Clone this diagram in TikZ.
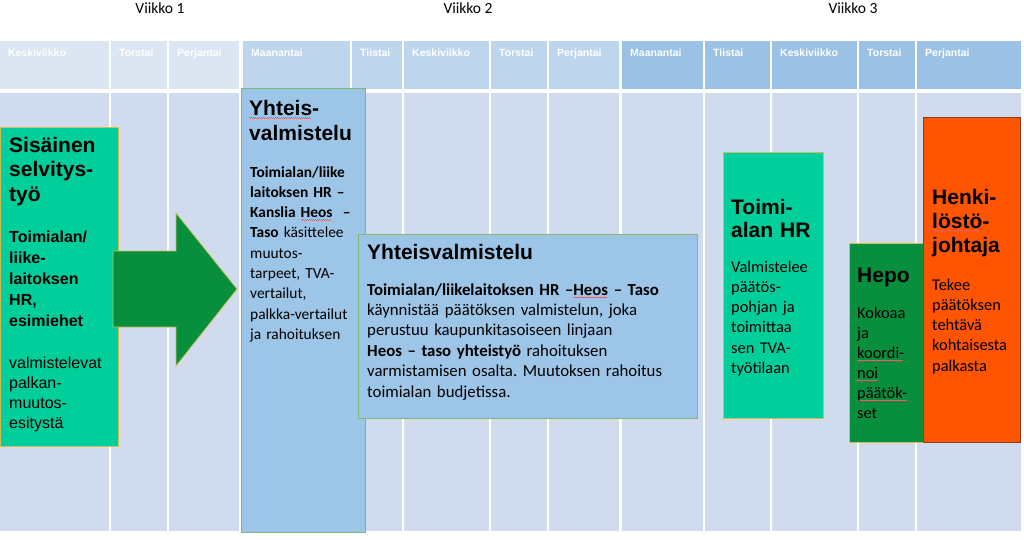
\documentclass[tikz,border=0pt]{standalone}
\usepackage{fontspec}
\setmainfont{Carlito}
\newfontfamily\arialfont{Liberation Sans}
\frenchspacing

\definecolor{gridbody}{RGB}{208,220,238}
\definecolor{headone}{RGB}{220,230,242}
\definecolor{headtwo}{RGB}{189,214,238}
\definecolor{headthree}{RGB}{155,193,229}
\definecolor{boxblue}{RGB}{157,197,232}
\definecolor{boxmint}{RGB}{0,206,155}
\definecolor{boxgreen}{RGB}{8,143,62}
\definecolor{boxorange}{RGB}{255,85,0}
\definecolor{edgeolive}{RGB}{205,190,90}
\definecolor{edgegreen}{RGB}{125,185,115}
\definecolor{edgebrown}{RGB}{140,60,30}
\definecolor{spellred}{RGB}{245,90,100}

% spell-check squiggle under a word
\newsavebox\spellbox
\newcommand{\spellmark}[1]{\leavevmode\sbox\spellbox{#1}\rlap{\color{spellred}\hbox to \wd\spellbox{%
    \leaders\hbox to 2pt{\rule[-2.6pt]{1pt}{1pt}\hss\rule[-3.4pt]{1pt}{1pt}\hss}\hfill}}#1}

\tikzset{
  daylabel/.style={anchor=base west, inner sep=0, text=white,
    font=\arialfont\bfseries\fontsize{10.5}{12}\selectfont},
  weeklabel/.style={inner sep=0, font=\fontsize{15.5}{18}\selectfont},
  boxtitle/.style={anchor=base west, inner sep=0, align=left, text width=150pt,
    font=\arialfont\bfseries\fontsize{21}{24.5}\selectfont},
  boxtext/.style={anchor=base west, inner sep=0, align=left, text width=340pt,
    font=\fontsize{16.4}{20.3}\selectfont},
  arialtext/.style={anchor=base west, inner sep=0, align=left, text width=150pt,
    font=\arialfont\fontsize{16}{20.3}\selectfont},
  panel/.style={line width=0.8pt},
}

\begin{document}
\begin{tikzpicture}[x=1pt,y=-1pt]
    \useasboundingbox[fill=white] (0,0) rectangle (1024,539);

    % week titles
    \node[weeklabel] (w1) at (160,8) {Viikko 1};
    \node[weeklabel] (w2) at (468,8) {Viikko 2};
    \node[weeklabel] (w3) at (853,8) {Viikko 3};

    % calendar grid
    \foreach \l/\r/\d/\c in {0/109/Keskiviikko/headone, 111/167/Torstai/headone,
        169/239/Perjantai/headone, 243/350/Maanantai/headtwo, 352/402/Tiistai/headtwo,
        404/489/Keskiviikko/headtwo, 491/547/Torstai/headtwo, 549/619/Perjantai/headtwo,
        622/703/Maanantai/headthree, 705/770/Tiistai/headthree,
        772/857/Keskiviikko/headthree, 859/915/Torstai/headthree,
        917/1021/Perjantai/headthree} {
        \fill[\c] (\l,41) rectangle (\r,89);
        \fill[gridbody] (\l,93) rectangle (\r,531);
        \node[daylabel] (d\l) at (\l+8,56) {\d};
    }

    % Sisainen selvitystyo
    \filldraw[panel, fill=boxmint, draw=edgeolive] (0,127) rectangle (118,446);
    \node[boxtitle] (sel) at (9,152) {Sisäinen\\selvitys-\\työ};
    \node[arialtext, font=\arialfont\bfseries\fontsize{16}{21}\selectfont] (selhr) at (9,242)
        {Toimialan/\\liike-\\laitoksen\\HR,\\esimiehet};
    \node[arialtext] (selval) at (9,368) {valmistelevat\\palkan-\\muutos-\\esitystä};

    % big arrow
    \filldraw[panel, fill=boxgreen, draw=edgeolive] (113,251) -- (176,251) -- (176,213)
        -- (237,289) -- (176,366) -- (176,327) -- (113,327) -- cycle;

    % Yhteisvalmistelu, tall
    \filldraw[panel, fill=boxblue, draw=edgegreen] (241,88) rectangle (365,532);
    \node[boxtitle] (yht) at (249,115.5) {\spellmark{Yhteis}-\\valmistelu};
    \node[boxtext, font=\fontsize{15.4}{20.3}\selectfont] (yhttext) at (250,177)
        {\textbf{Toimialan/liike}\\\textbf{laitoksen HR –}\\
        \textbf{Kanslia \spellmark{Heos}\ \ –}\\\textbf{Taso} käsittelee\\muutos-\\tarpeet, TVA-\\
        vertailut,\\palkka-vertailut\\ja rahoituksen};

    % Yhteisvalmistelu, wide
    \filldraw[panel, fill=boxblue, draw=edgegreen] (358,234) rectangle (697,418);
    \node[boxtitle, text width=300pt] (yhtw) at (367,259.5) {Yhteisvalmistelu};
    \node[boxtext, font=\fontsize{16.8}{20.4}\selectfont] (yhtwtext) at (367,295)
        {\textbf{Toimialan/liikelaitoksen HR –\spellmark{Heos} – Taso}\\
        käynnistää päätöksen valmistelun, joka\\
        perustuu kaupunkitasoiseen linjaan\\
        \textbf{Heos – taso yhteistyö} rahoituksen\\
        varmistamisen osalta. Muutoksen rahoitus\\
        toimialan budjetissa.};

    % Toimialan HR
    \filldraw[panel, fill=boxmint, draw=edgeolive] (723,152) rectangle (823,418);
    \node[boxtitle, font=\arialfont\bfseries\fontsize{21}{23.5}\selectfont] (toim) at (731,214)
        {Toimi-\\alan HR};
    \node[boxtext] (toimtext) at (731,272)
        {Valmistelee\\päätös-\\pohjan ja\\toimittaa\\sen TVA-\\työtilaan};

    % Hepo
    \filldraw[panel, fill=boxgreen, draw=edgeolive] (849,243) rectangle (923,442);
    \node[boxtitle] (hepo) at (857,282.5) {Hepo};
    \node[boxtext, font=\fontsize{16.4}{20}\selectfont] (hepotext) at (857,318)
        {Kokoaa\\ja\\\spellmark{koordi-}\\\spellmark{noi}\\\spellmark{päätök-}\\set};

    % Henkilostojohtaja
    \filldraw[panel, fill=boxorange, draw=edgebrown] (923,117) rectangle (1020,442);
    \node[boxtitle, font=\arialfont\bfseries\fontsize{21}{24}\selectfont] (henk) at (932,204)
        {Henki-\\\spellmark{löstö}-\\johtaja};
    \node[boxtext] (henktext) at (932,290)
        {Tekee\\päätöksen\\tehtävä\\kohtaisesta\\palkasta};
\end{tikzpicture}
\end{document}
